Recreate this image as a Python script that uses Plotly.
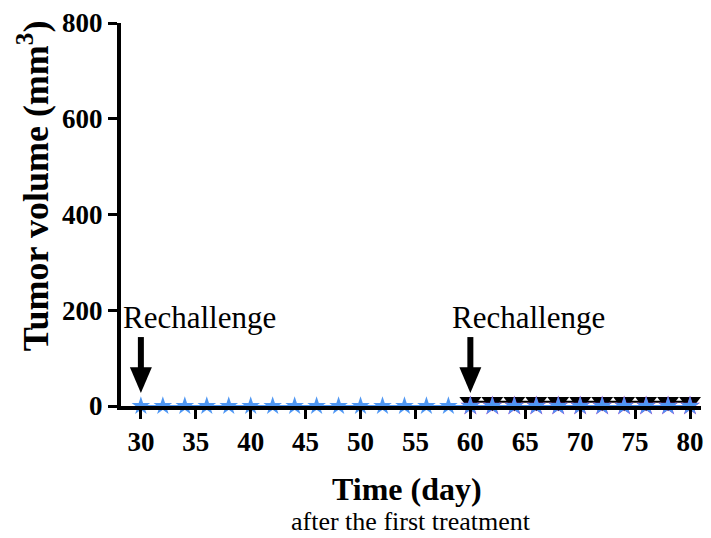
import plotly.graph_objects as go

# ---- data ----
days_control = [30, 32, 34, 36, 38, 40, 42, 44, 46, 48, 50, 52, 54, 56, 58,
                60, 62, 64, 66, 68, 70, 72, 74, 76, 78, 80]
volume_control = [0, 0, 0, 0, 0, 0, 0, 0, 0, 0, 0, 0, 0, 0, 0,
                  0, 0, 0, 0, 0, 0, 0, 0, 0, 0, 0]
days_rechallenge = [60, 62, 64, 66, 68, 70, 72, 74, 76, 78, 80]
volume_rechallenge = [0, 0, 0, 0, 0, 0, 0, 0, 0, 0, 0]
volume_rechallenge2 = [0, 0, 0, 0, 0, 0, 0, 0, 0, 0, 0]
rechallenge_days = [30, 60]
y_ticks = [0, 200, 400, 600, 800]
x_ticks = [30, 35, 40, 45, 50, 55, 60, 65, 70, 75, 80]

SERIF = "Liberation Serif, Times New Roman, serif"
BLUE = "#4f97f3"
PURPLE = "#a43cc8"

fig = go.Figure()
# triangles drawn on an overlaying axis nudged a few pixels so the
# symbol sits centred on the point like the original software draws it
fig.add_trace(go.Scatter(
    x=days_rechallenge, y=volume_rechallenge, mode="lines+markers",
    line=dict(color="black", width=2),
    marker=dict(symbol="triangle-down", size=19, color="black"),
    cliponaxis=False, showlegend=False, yaxis="y2"))
# stars on a further overlay (same scale as the main axis) so they sit on top
fig.add_trace(go.Scatter(
    x=days_rechallenge, y=volume_rechallenge2, mode="markers",
    marker=dict(symbol="star", size=15, color=PURPLE),
    cliponaxis=False, showlegend=False, yaxis="y3"))
fig.add_trace(go.Scatter(
    x=days_control, y=volume_control, mode="lines+markers",
    line=dict(color=BLUE, width=2),
    marker=dict(symbol="star", size=14, color=BLUE),
    cliponaxis=False, showlegend=False, yaxis="y3"))

# rechallenge arrows (shaft + head) anchored on the rechallenge days
shapes = []
for d in rechallenge_days:
    shapes.append(dict(type="line", xref="x", yref="y",
                       x0=d, x1=d, y0=60, y1=144,
                       line=dict(color="black", width=6)))
    shapes.append(dict(type="path", xref="x", yref="y",
                       path=f"M {d - 1.0},{81} L {d + 1.0},{81} L {d},{27} Z",
                       fillcolor="black", line=dict(color="black", width=0)))

annotations = []
for d in rechallenge_days:
    annotations.append(dict(
        x=d, y=0, xref="x", yref="y", text="Rechallenge", showarrow=False,
        xanchor="left", yanchor="middle", xshift=-20, yshift=89,
        font=dict(family=SERIF, size=31, color="black")))

annotations.append(dict(
    x=0.5, y=0, xref="paper", yref="paper", text="<b>Time (day)</b>",
    showarrow=False, xanchor="center", yanchor="middle", yshift=-83,
    xshift=-4, font=dict(family=SERIF, size=32, color="black")))
annotations.append(dict(
    x=0.5, y=0, xref="paper", yref="paper", text="after the first treatment",
    showarrow=False, xanchor="center", yanchor="middle", yshift=-115,
    font=dict(family=SERIF, size=26, color="black")))
annotations.append(dict(
    x=0, y=0.574, xref="paper", yref="paper",
    text="<b>Tumor volume (mm<sup>3</sup>)</b>", textangle=-90,
    showarrow=False, xanchor="center", yanchor="middle", xshift=-88,
    font=dict(family=SERIF, size=36, color="black")))

tickfont = dict(family=SERIF, size=27, color="black", weight="bold")

fig.update_layout(
    width=711, height=538,
    margin=dict(l=121, r=8, t=22, b=132),
    paper_bgcolor="white", plot_bgcolor="white",
    annotations=annotations, shapes=shapes,
    xaxis=dict(range=[28.19, 81], tickvals=x_ticks, ticks="outside",
               ticklen=9, tickwidth=3, tickcolor="black",
               showline=True, linewidth=4, linecolor="black",
               showgrid=False, zeroline=False, tickfont=tickfont,
               ticklabeloverflow="allow"),
    yaxis=dict(range=[0, 800], tickvals=y_ticks, ticks="outside",
               ticklen=9, tickwidth=3, tickcolor="black",
               showline=True, linewidth=4, linecolor="black",
               showgrid=False, zeroline=False, tickfont=tickfont,
               ticklabeloverflow="allow"),
    yaxis2=dict(range=[-9, 791], overlaying="y", visible=False),
    yaxis3=dict(range=[0, 800], overlaying="y", visible=False),
)

# remove the default 8px page margin so the figure fills the window exactly
fig.write_html("out.html",
               config={"displayModeBar": False},
               post_script="document.body.style.margin='0';")
